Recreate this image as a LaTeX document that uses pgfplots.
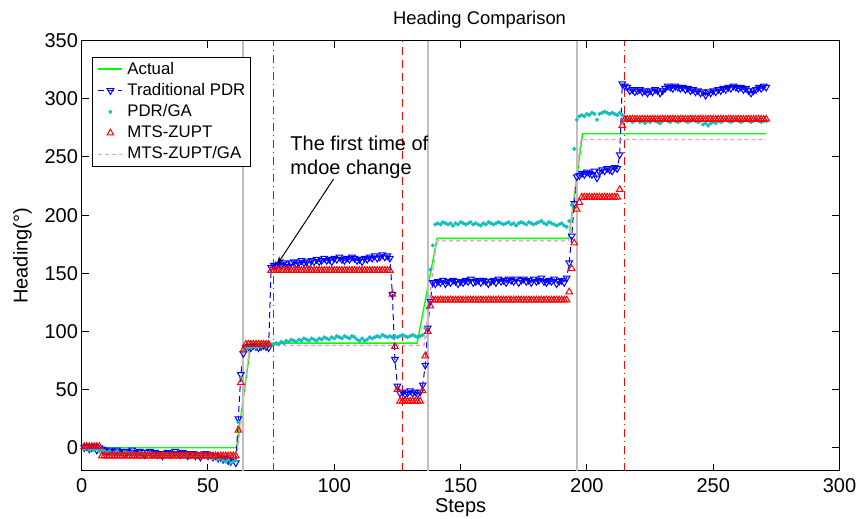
\documentclass[border=0pt]{standalone}
\usepackage{fontspec}
\setmainfont{Liberation Sans}
\usepackage{pgfplots}
\usepackage{pgfplotstable}
\pgfplotsset{compat=1.18}
\usetikzlibrary{arrows.meta}

\definecolor{pdrblue}{RGB}{0,0,255}
\definecolor{gacyan}{RGB}{20,190,190}
\definecolor{mtsred}{RGB}{255,0,0}
\definecolor{actgreen}{RGB}{0,255,0}
\definecolor{gapink}{RGB}{255,150,200}
\definecolor{vgray}{RGB}{190,190,190}

% step, traditional PDR, PDR/GA, MTS-ZUPT
\pgfplotstableread{
s trad ga mts
1 0 -1 1
2 1 0 1
3 -1 -2 1
4 0 -1 1
5 1 -2 1
6 -2 -1 1
7 0 -3 1
8 -1 -2 -7
9 -2 -3 -7
10 -3 -4 -7
11 -2 -3 -7
12 -4 -5 -7
13 -3 -4 -7
14 -2 -3 -7
15 -4 -5 -7
16 -3 -5 -7
17 -5 -4 -7
18 -3 -4 -7
19 -4 -6 -7
20 -2 -4 -7
21 -4 -5 -7
22 -5 -6 -7
23 -3 -4 -7
24 -4 -5 -7
25 -6 -5 -7
26 -4 -6 -7
27 -3 -4 -7
28 -5 -6 -7
29 -4 -5 -7
30 -6 -7 -7
31 -5 -6 -7
32 -7 -6 -7
33 -5 -7 -7
34 -4 -5 -7
35 -6 -7 -7
36 -5 -6 -7
37 -3 -5 -7
38 -5 -6 -7
39 -6 -7 -7
40 -4 -6 -7
41 -5 -7 -7
42 -7 -6 -7
43 -6 -8 -7
44 -5 -6 -7
45 -7 -8 -7
46 -6 -7 -7
47 -8 -7 -7
48 -6 -8 -7
49 -5 -7 -7
50 -7 -8 -7
51 -6 -7 -7
52 -8 -9 -7
53 -7 -8 -7
54 -9 -10 -7
55 -8 -9 -7
56 -10 -11 -7
57 -9 -12 -7
58 -11 -10 -7
59 -12 -13 -7
60 -10 -12 -7
61 -13 -11 -7
62 25 22 15
63 63 60 56
64 81 83 84
65 86 85 89
66 87 86 89
67 86 86 89
68 88 87 89
69 87 86 89
70 86 87 89
71 87 87 89
72 88 88 89
73 87 87 89
74 86 88 89
75 155 88 152.5
76 157 89 152.5
77 156 90 152.5
78 158 89 152.5
79 157 91 152.5
80 159 90 152.5
81 158 92 152.5
82 156 91 152.5
83 159 93 152.5
84 160 92 152.5
85 158 91 152.5
86 159 93 152.5
87 161 92 152.5
88 159 94 152.5
89 160 93 152.5
90 158 92 152.5
91 161 94 152.5
92 160 93 152.5
93 162 92 152.5
94 160 94 152.5
95 161 93 152.5
96 163 95 152.5
97 161 94 152.5
98 162 93 152.5
99 160 95 152.5
100 163 94 152.5
101 162 96 152.5
102 164 95 152.5
103 162 94 152.5
104 161 96 152.5
105 163 95 152.5
106 162 94 152.5
107 164 96 152.5
108 163 95 152.5
109 161 93 152.5
110 162 92 152.5
111 160 94 152.5
112 163 92 152.5
113 162 93 152.5
114 164 95 152.5
115 163 94 152.5
116 165 95 152.5
117 163 96 152.5
118 164 95 152.5
119 166 97 152.5
120 164 96 152.5
121 165 95 152.5
122 163 96 152.5
123 132 95 132
124 76 96 87
125 53 95 50
126 47 96 40
127 48 97 40
128 46 96 40
129 47 95 40
130 49 96 40
131 47 97 40
132 48 96 40
133 46 95 40
134 48 96 40
135 54 97 49
136 71 103 79
137 103 120 100
138 126 153 122
139 142 174 127
140 141 192 127
141 143 193 127
142 142 192 127
143 144 194 127
144 141 193 127
145 143 192 127
146 142 193 127
147 144 191 127
148 143 193 127
149 141 192 127
150 143 194 127
151 142 193 127
152 144 192 127
153 143 193 127
154 145 194 127
155 142 192 127
156 143 193 127
157 144 192 127
158 142 191 127
159 144 193 127
160 143 192 127
161 141 194 127
162 143 193 127
163 144 192 127
164 142 193 127
165 145 194 127
166 143 193 127
167 144 192 127
168 142 193 127
169 145 194 127
170 144 192 127
171 143 193 127
172 145 191 127
173 142 193 127
174 144 194 127
175 145 193 127
176 143 192 127
177 144 194 127
178 142 193 127
179 145 192 127
180 143 193 127
181 144 194 127
182 146 195 127
183 143 193 127
184 142 192 127
185 144 194 127
186 143 193 127
187 145 192 127
188 141 191 127
189 143 192 127
190 144 193 127
191 142 191 127
192 146 190 127
193 159 195 134
194 182 209 154
195 210 257 176
196 233 282 205
197 234 285 211
198 236 286 215.5
199 235 285 215.5
200 237 287 215.5
201 236 286 215.5
202 235 288 215.5
203 238 287 215.5
204 232 282 215.5
205 237 287 215.5
206 239 288 215.5
207 238 289 215.5
208 240 288 215.5
209 239 287 215.5
210 238 288 215.5
211 241 287 215.5
212 240 286 215.5
213 252 288 222
214 313 286 277
215 311 283 282.5
216 310 281 282.5
217 307 282 282.5
218 308 280 282.5
219 306 281 282.5
220 307 282 282.5
221 308 280 282.5
222 306 281 282.5
223 307 279 282.5
224 305 281 282.5
225 307 280 282.5
226 306 282 282.5
227 308 281 282.5
228 307 280 282.5
229 305 279 282.5
230 307 281 282.5
231 309 282 282.5
232 311 281 282.5
233 310 280 282.5
234 309 282 282.5
235 311 281 282.5
236 310 280 282.5
237 309 281 282.5
238 310 282 282.5
239 308 281 282.5
240 309 280 282.5
241 307 281 282.5
242 308 282 282.5
243 306 281 282.5
244 307 280 282.5
245 305 281 282.5
246 306 278 282.5
247 303 279 282.5
248 306 277 282.5
249 305 279 282.5
250 307 280 282.5
251 306 279 282.5
252 308 281 282.5
253 307 280 282.5
254 309 281 282.5
255 308 282 282.5
256 310 281 282.5
257 309 280 282.5
258 311 281 282.5
259 310 282 282.5
260 309 281 282.5
261 310 280 282.5
262 308 281 282.5
263 309 282 282.5
264 307 281 282.5
265 305 280 282.5
266 307 281 282.5
267 308 282 282.5
268 310 281 282.5
269 309 280 282.5
270 311 281 282.5
271 310 281 282.5
}\heading

\begin{document}
\begin{tikzpicture}
\begin{axis}[
  at={(0,0)}, anchor=south west,
  scale only axis, width=378.9pt, height=215.15pt,
  xmin=0, xmax=300, ymin=-20, ymax=350,
  xtick={0,50,...,300}, ytick={0,50,...,350},
  tick align=inside, major tick length=3.5pt,
  axis line style={line width=0.5pt},
  tick style={black, line width=0.5pt},
  font=\fontsize{10}{12}\selectfont,
  tick label style={font=\fontsize{10}{12}\selectfont},
  /pgf/number format/assume math mode=true,
  xticklabel style={inner sep=0pt, yshift=-3.5pt},
  yticklabel style={inner sep=0pt, xshift=-1.7pt},
  title={Heading Comparison},
  title style={at={(axis description cs:0.5,1)}, anchor=base, yshift=1.85pt,
    xshift=9.5pt, font=\fontsize{9.2}{11}\selectfont},
  xlabel={Steps},
  xlabel style={at={(axis description cs:0.5,0)}, anchor=base, yshift=-21pt},
  ylabel={Heading(°)},
  ylabel style={at={([xshift=-27pt]axis description cs:0,0.5)}, anchor=base},
  legend style={at={(axis description cs:0.0136,0.9613)}, anchor=north west,
    fill=white, inner xsep=2.5pt, inner ysep=2pt,
    font=\fontsize{8.4}{10}\selectfont, row sep=2.9pt, column sep=2pt,
    nodes={inner sep=0pt},
    /tikz/every even column/.append style={text height=6.2pt, text depth=1.8pt}},
  legend cell align=left,
  legend image code/.code={\draw[mark repeat=2,mark phase=2,#1]
    plot coordinates {(0pt,0pt) (6pt,0pt) (12pt,0pt)};},
]
\addlegendimage{draw=actgreen, line width=1pt}
\addlegendentry{Actual}
\addplot[draw=actgreen, line width=0.7pt, forget plot] coordinates {
  (1,0)(61.3,0)(67,90)(132.8,90)(140.7,180)(192.8,180)(198.3,270)(271,270)};
\addplot[pdrblue, draw=pdrblue, line width=0.5pt, dash pattern=on 3pt off 2pt,
  mark=triangle, mark size=1.9pt, mark options={solid, rotate=180}]
  table[x=s, y=trad] {\heading};
\addlegendentry{Traditional PDR}
\addplot[gacyan, only marks, mark=*, mark size=0.8pt]
  table[x=s, y=ga] {\heading};
\addlegendentry{PDR/GA}
\addplot[mtsred, draw=mtsred, only marks, mark=triangle, mark size=1.9pt, line width=0.5pt]
  table[x=s, y=mts] {\heading};
\addlegendentry{MTS-ZUPT}
\addplot[gapink, draw=gapink, line width=0.7pt, dash pattern=on 2pt off 1.5pt] coordinates {
  (1,0)(7,0)(8,-6)(61.5,-6)(66.5,88)(135.5,88)(140.5,178)(192.8,178)(197.6,265)(271,265)};
\addlegendentry{MTS-ZUPT/GA}

% mode change markers
\addplot[vgray, line width=1pt, forget plot] coordinates {(64,-20)(64,350)};
\addplot[vgray, line width=1pt, forget plot] coordinates {(137,-20)(137,350)};
\addplot[vgray, line width=1pt, forget plot] coordinates {(196,-20)(196,350)};
\addplot[mtsred, line width=0.5pt, dash pattern=on 4pt off 2pt on 0.5pt off 2pt, forget plot]
  coordinates {(76,-20)(76,350)};
\addplot[mtsred, line width=0.5pt, dash pattern=on 4pt off 2.5pt, forget plot]
  coordinates {(127,-20)(127,350)};
\addplot[mtsred, line width=0.5pt, dash pattern=on 4pt off 2pt on 0.5pt off 2pt, forget plot]
  coordinates {(215,-20)(215,350)};

\draw[-{Stealth[length=4.5pt,width=3pt]}, line width=0.5pt]
  (axis cs:99.7,231) -- (axis cs:77.2,157);
\node[anchor=base west, inner sep=0pt] at (axis cs:82.5,256) {The first time of};
\node[anchor=base west, inner sep=0pt] at (axis cs:82.5,235) {mdoe change};
\end{axis}
\pgfresetboundingbox
\path (-40.85pt,-24pt) rectangle (388.15pt,235.5pt);
\end{tikzpicture}
\end{document}
